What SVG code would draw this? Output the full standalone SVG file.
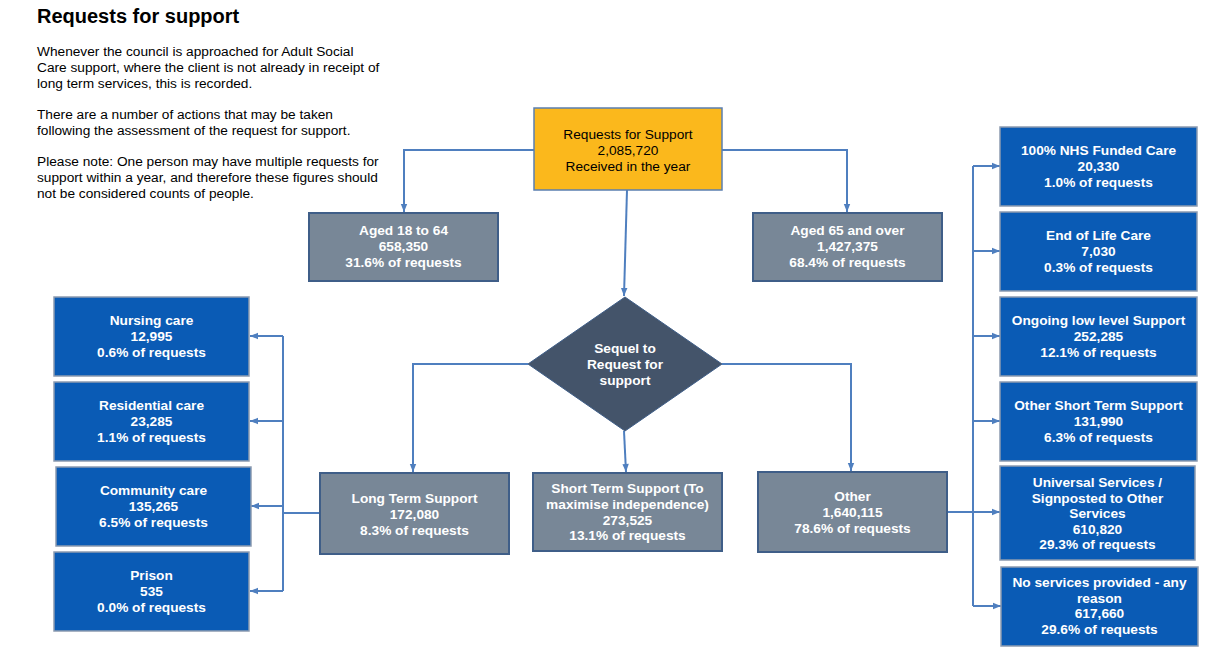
<svg xmlns="http://www.w3.org/2000/svg" width="1216" height="658" viewBox="0 0 1216 658">
<style>
.conn{fill:none;stroke:#4F7FBF;stroke-width:2}
.blue{fill:#0A5BB5;stroke:#8C9BB0;stroke-width:1.5}
.grey{fill:#788797;stroke:#3F5E88;stroke-width:2}
.wt{font-family:"Liberation Sans",Arial,sans-serif;font-size:13.7px;font-weight:bold;fill:#fff;text-anchor:middle}
.bt{font-family:"Liberation Sans",Arial,sans-serif;font-size:13.7px;fill:#000}
.ct{font-family:"Liberation Sans",Arial,sans-serif;font-size:13.7px;fill:#000;text-anchor:middle}
.title{font-family:"Liberation Sans",Arial,sans-serif;font-size:20px;font-weight:bold;fill:#000}
</style>
<defs>
<marker id="arr" viewBox="0 0 10 10" refX="10" refY="5" markerWidth="9" markerHeight="8" markerUnits="userSpaceOnUse" orient="auto">
<path d="M0,1 L10,5 L0,9 z" fill="#4F7FBF"/>
</marker>
</defs>
<rect width="1216" height="658" fill="#fff"/>
<g id="intro">
<text class="title" x="37" y="23">Requests for support</text>
<text class="bt" x="37" y="56">Whenever the council is approached for Adult Social</text>
<text class="bt" x="37" y="72">Care support, where the client is not already in receipt of</text>
<text class="bt" x="37" y="88">long term services, this is recorded.</text>
<text class="bt" x="37" y="119">There are a number of actions that may be taken</text>
<text class="bt" x="37" y="135">following the assessment of the request for support.</text>
<text class="bt" x="37" y="166">Please note: One person may have multiple requests for</text>
<text class="bt" x="37" y="182">support within a year, and therefore these figures should</text>
<text class="bt" x="37" y="198">not be considered counts of people.</text>
</g>
<g id="connectors">
<path class="conn" d="M534,150 H404 V212" marker-end="url(#arr)"/>
<path class="conn" d="M722,150 H847 V212" marker-end="url(#arr)"/>
<path class="conn" d="M627,190 L624,296" marker-end="url(#arr)"/>
<path class="conn" d="M528,364 H413 V472" marker-end="url(#arr)"/>
<path class="conn" d="M624,431 L626,472" marker-end="url(#arr)"/>
<path class="conn" d="M722,364 H851 V471" marker-end="url(#arr)"/>
<path class="conn" d="M320,513 H283"/>
<path class="conn" d="M283,336 V591"/>
<path class="conn" d="M283,336 H250" marker-end="url(#arr)"/>
<path class="conn" d="M283,421 H250" marker-end="url(#arr)"/>
<path class="conn" d="M283,506 H251" marker-end="url(#arr)"/>
<path class="conn" d="M283,591 H250" marker-end="url(#arr)"/>
<path class="conn" d="M948,512 H973"/>
<path class="conn" d="M973,166 V606"/>
<path class="conn" d="M973,166 H1000" marker-end="url(#arr)"/>
<path class="conn" d="M973,251 H1000" marker-end="url(#arr)"/>
<path class="conn" d="M973,336 H1000" marker-end="url(#arr)"/>
<path class="conn" d="M973,421 H1000" marker-end="url(#arr)"/>
<path class="conn" d="M973,512 H1000" marker-end="url(#arr)"/>
<path class="conn" d="M973,606 H1001" marker-end="url(#arr)"/>
</g>
<g id="requests">
<rect x="534" y="108" width="188" height="82" fill="#FBB81C" stroke="#5B7FB0" stroke-width="1.5"/>
<text class="ct" x="628" y="139">Requests for Support</text>
<text class="ct" x="628" y="155">2,085,720</text>
<text class="ct" x="628" y="171">Received in the year</text>
</g>
<g id="aged18">
<rect class="grey" x="309" y="213" width="189" height="68"/>
<text class="wt" x="403.5" y="235">Aged 18 to 64</text>
<text class="wt" x="403.5" y="251">658,350</text>
<text class="wt" x="403.5" y="267">31.6% of requests</text>
</g>
<g id="aged65">
<rect class="grey" x="753" y="213" width="189" height="68"/>
<text class="wt" x="847.5" y="235">Aged 65 and over</text>
<text class="wt" x="847.5" y="251">1,427,375</text>
<text class="wt" x="847.5" y="267">68.4% of requests</text>
</g>
<g id="sequel">
<polygon points="625,297 722,364 625,431 528,364" fill="#44546A" stroke="#3F5E88" stroke-width="1"/>
<text class="wt" x="625" y="353">Sequel to</text>
<text class="wt" x="625" y="369">Request for</text>
<text class="wt" x="625" y="385">support</text>
</g>
<g id="longterm">
<rect class="grey" x="320" y="473" width="189" height="81"/>
<text class="wt" x="414.5" y="503">Long Term Support</text>
<text class="wt" x="414.5" y="519">172,080</text>
<text class="wt" x="414.5" y="535">8.3% of requests</text>
</g>
<g id="shortterm">
<rect class="grey" x="533" y="473" width="189" height="78"/>
<text class="wt" x="627.5" y="493">Short Term Support (To</text>
<text class="wt" x="627.5" y="509">maximise independence)</text>
<text class="wt" x="627.5" y="525">273,525</text>
<text class="wt" x="627.5" y="540">13.1% of requests</text>
</g>
<g id="other">
<rect class="grey" x="758" y="472" width="189" height="80"/>
<text class="wt" x="852.5" y="501">Other</text>
<text class="wt" x="852.5" y="517">1,640,115</text>
<text class="wt" x="852.5" y="533">78.6% of requests</text>
</g>
<g id="nursing">
<rect class="blue" x="54" y="297" width="195" height="79"/>
<text class="wt" x="151.5" y="325">Nursing care</text>
<text class="wt" x="151.5" y="341">12,995</text>
<text class="wt" x="151.5" y="357">0.6% of requests</text>
</g>
<g id="residential">
<rect class="blue" x="54" y="382" width="195" height="79"/>
<text class="wt" x="151.5" y="410">Residential care</text>
<text class="wt" x="151.5" y="426">23,285</text>
<text class="wt" x="151.5" y="442">1.1% of requests</text>
</g>
<g id="community">
<rect class="blue" x="56" y="467" width="195" height="79"/>
<text class="wt" x="153.5" y="495">Community care</text>
<text class="wt" x="153.5" y="511">135,265</text>
<text class="wt" x="153.5" y="527">6.5% of requests</text>
</g>
<g id="prison">
<rect class="blue" x="54" y="552" width="195" height="79"/>
<text class="wt" x="151.5" y="580">Prison</text>
<text class="wt" x="151.5" y="596">535</text>
<text class="wt" x="151.5" y="612">0.0% of requests</text>
</g>
<g id="nhs">
<rect class="blue" x="1000" y="127" width="197" height="79"/>
<text class="wt" x="1098.5" y="155">100% NHS Funded Care</text>
<text class="wt" x="1098.5" y="171">20,330</text>
<text class="wt" x="1098.5" y="187">1.0% of requests</text>
</g>
<g id="endoflife">
<rect class="blue" x="1000" y="212" width="197" height="79"/>
<text class="wt" x="1098.5" y="240">End of Life Care</text>
<text class="wt" x="1098.5" y="256">7,030</text>
<text class="wt" x="1098.5" y="272">0.3% of requests</text>
</g>
<g id="ongoing">
<rect class="blue" x="1000" y="297" width="197" height="79"/>
<text class="wt" x="1098.5" y="325">Ongoing low level Support</text>
<text class="wt" x="1098.5" y="341">252,285</text>
<text class="wt" x="1098.5" y="357">12.1% of requests</text>
</g>
<g id="othershort">
<rect class="blue" x="1000" y="382" width="197" height="79"/>
<text class="wt" x="1098.5" y="410">Other Short Term Support</text>
<text class="wt" x="1098.5" y="426">131,990</text>
<text class="wt" x="1098.5" y="442">6.3% of requests</text>
</g>
<g id="universal">
<rect class="blue" x="1000" y="466" width="195" height="94"/>
<text class="wt" x="1097.5" y="487">Universal Services /</text>
<text class="wt" x="1097.5" y="502.5">Signposted to Other</text>
<text class="wt" x="1097.5" y="518">Services</text>
<text class="wt" x="1097.5" y="533.5">610,820</text>
<text class="wt" x="1097.5" y="549">29.3% of requests</text>
</g>
<g id="noservices">
<rect class="blue" x="1001" y="567" width="197" height="79"/>
<text class="wt" x="1099.5" y="587">No services provided - any</text>
<text class="wt" x="1099.5" y="603">reason</text>
<text class="wt" x="1099.5" y="618">617,660</text>
<text class="wt" x="1099.5" y="634">29.6% of requests</text>
</g>
</svg>
